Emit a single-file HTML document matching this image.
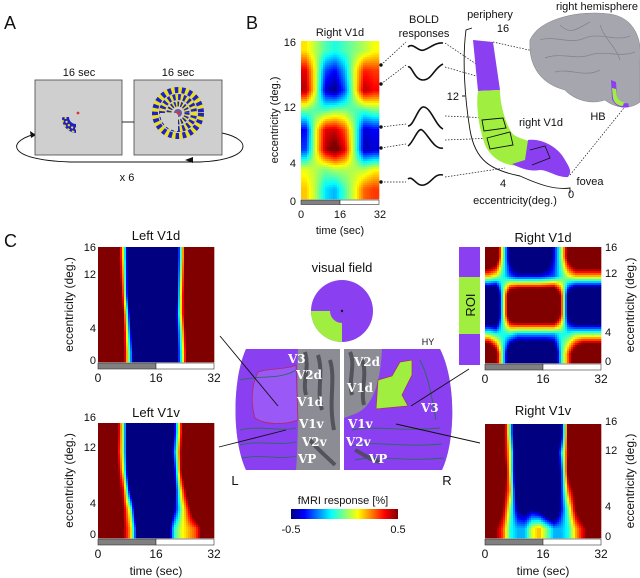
<!DOCTYPE html>
<html><head><meta charset="utf-8">
<style>
html,body{margin:0;padding:0;background:#fff;}
svg{display:block;font-family:"Liberation Sans",sans-serif;}
.t{font-size:11px;fill:#111;}
.tt{font-size:12px;fill:#111;}
.ti{font-size:13px;fill:#111;}
.pl{font-size:18px;fill:#111;}
.lab{font-family:"DejaVu Serif","Liberation Serif",serif;font-weight:bold;font-size:12px;fill:#fff;}
</style></head>
<body>
<svg id="fig" width="640" height="578" viewBox="0 0 640 578" xmlns="http://www.w3.org/2000/svg">
<defs>
<linearGradient id="jetGrad" x1="0" x2="1" y1="0" y2="0">
<stop offset="0" stop-color="#000080"/><stop offset="0.125" stop-color="#0000ff"/><stop offset="0.375" stop-color="#00ffff"/><stop offset="0.625" stop-color="#ffff00"/><stop offset="0.875" stop-color="#ff0000"/><stop offset="1" stop-color="#800000"/>
</linearGradient>
</defs>

<!-- Panel A -->
<text class="pl" x="4" y="29">A</text>
<text class="t" x="79" y="76" text-anchor="middle">16 sec</text>
<text class="t" x="178" y="76" text-anchor="middle">16 sec</text>
<path d="M40,133 C5,140 5,160 70,162 L200,162 C250,160 255,140 222,133" fill="none" stroke="#111" stroke-width="0.9"/>
<polygon points="36,135 30,131 31,138" fill="#111"/>
<polygon points="185,160 193,157 193,163" fill="#111"/>
<rect x="35" y="80" width="87" height="75" fill="#cfcfcf" stroke="#444" stroke-width="0.8"/>
<rect x="134" y="80" width="88" height="75" fill="#cfcfcf" stroke="#444" stroke-width="0.8"/>
<line x1="122" y1="122" x2="134" y2="122" stroke="#111" stroke-width="0.9"/>
<g>
<path d="M62,117 A15,15 0 0 0 76,133 L76,124 A7,7 0 0 1 69,117 Z" fill="#2020c8"/>
<path d="M65.5,117 A11.5,11.5 0 0 0 76,128.5" fill="none" stroke="#e8e020" stroke-width="2" stroke-dasharray="2 2"/>
<path d="M62.5,117 A14.5,14.5 0 0 0 76,132" fill="none" stroke="#e8e020" stroke-width="1.5" stroke-dasharray="2.5 2.5" stroke-dashoffset="2"/>
<circle cx="78" cy="113" r="1.4" fill="#e03030"/>
</g>
<g>
<circle cx="178" cy="113" r="23" fill="none" stroke="#e8e020" stroke-width="6"/>
<circle cx="178" cy="113" r="23" fill="none" stroke="#2020c8" stroke-width="6" stroke-dasharray="3.5 3.5"/>
<circle cx="178" cy="113" r="16" fill="none" stroke="#2020c8" stroke-width="6"/>
<circle cx="178" cy="113" r="16" fill="none" stroke="#e8e020" stroke-width="6" stroke-dasharray="2.6 2.6"/>
<circle cx="178" cy="113" r="9" fill="none" stroke="#e8e020" stroke-width="5"/>
<circle cx="178" cy="113" r="9" fill="none" stroke="#2020c8" stroke-width="5" stroke-dasharray="1.6 1.6"/>
<circle cx="178" cy="113" r="4" fill="#6a5aa0"/>
<path d="M178,113 L160,113 A18,18 0 0 0 178,131 Z" fill="#cfcfcf"/>
<circle cx="178" cy="113" r="1.5" fill="#e03030"/>
</g>
<text class="t" x="127" y="181" text-anchor="middle">x 6</text>

<!-- Panel B -->
<text class="pl" x="246" y="29">B</text>
<text class="t" x="340" y="36" text-anchor="middle">Right V1d</text>
<g id="hmB"></g>
<g>
<text class="t" x="296" y="46" text-anchor="end">16</text><text class="t" x="296" y="111" text-anchor="end">12</text>
<text class="t" x="296" y="167" text-anchor="end">4</text><text class="t" x="296" y="205" text-anchor="end">0</text></g>
<text class="t" transform="translate(278,120) rotate(-90)" text-anchor="middle">eccentricity (deg.)</text>
<rect x="301" y="200" width="39" height="4.5" fill="#808080" stroke="#333" stroke-width="0.6"/>
<rect x="340" y="200" width="39" height="4.5" fill="#fff" stroke="#333" stroke-width="0.6"/>
<text class="t" x="301" y="218" text-anchor="middle">0</text><text class="t" x="340" y="218" text-anchor="middle">16</text><text class="t" x="380" y="218" text-anchor="middle">32</text>
<text class="t" x="340" y="234" text-anchor="middle">time (sec)</text>
<text class="t" x="424" y="23" text-anchor="middle">BOLD</text>
<text class="t" x="424" y="37" text-anchor="middle">responses</text>
<g fill="none" stroke="#111" stroke-width="1.6">
<path d="M408,47 C413,42 418,52 424,50 C430,48 436,42 443,43"/>
<path d="M408,67 C412,65 414,80 423,80 C432,80 434,68 443,64"/>
<path d="M408,126 C414,126 418,106 424,107 C431,108 436,126 443,129"/>
<path d="M408,146 C413,143 418,127 422,130 C428,134 434,150 443,148"/>
<path d="M408,179 C413,175 416,187 424,185 C432,183 434,173 443,175"/>
</g>
<g stroke="#111" stroke-width="0.7" stroke-dasharray="1.5 1.5" fill="none">
<path d="M381,65 L406,42"/><path d="M381,84 L406,65"/><path d="M381,127 L406,124"/><path d="M381,148 L406,144"/><path d="M381,182 L406,182"/>
<path d="M445,43 L485,70"/><path d="M445,67 L490,80"/><path d="M445,116 L490,118"/><path d="M445,140 L495,138"/><path d="M445,177 L505,168"/>
<path d="M493,42 L610,68"/><path d="M570,175 L628,103"/>
</g>
<g fill="#111"><circle cx="381" cy="65" r="1.7"/><circle cx="381" cy="84" r="1.7"/><circle cx="381" cy="127" r="1.7"/><circle cx="381" cy="148" r="1.7"/><circle cx="381" cy="182" r="1.7"/></g>
<path d="M530,40 C540,18 580,10 610,14 C635,18 642,40 640,60 L640,102 C630,110 615,108 605,100 C590,105 575,100 565,90 C545,85 528,70 530,40 Z" fill="#a6a6ae" stroke="#8a8a92" stroke-width="0.6"/>
<g stroke="#7d7d86" stroke-width="0.8" fill="none" opacity="0.8">
<path d="M540,40 C555,35 570,45 585,38 C600,32 615,42 630,36"/><path d="M545,58 C560,52 575,60 590,55 C605,50 620,58 635,52"/>
<path d="M560,25 C570,35 575,30 590,22"/><path d="M555,72 C570,68 585,78 600,70"/><path d="M600,25 C605,40 615,45 620,60"/>
</g>
<path d="M611,80 L616,82 L617,97 C619,103 624,104 628,103 L629,107 C621,109 615,106 612,99 Z" fill="#8a40f0"/>
<path d="M612,88 L616,89 L617,97 C619,101 622,102 624,102 L623,106 C618,106 614,103 613,98 Z" fill="#a0ee40"/>
<text class="t" x="597" y="10" text-anchor="middle">right hemisphere</text>
<text class="t" x="598" y="120" text-anchor="middle">HB</text>
<path d="M472,28 L466,30 C462,60 465,100 470,130 C475,160 490,170 520,176 C540,185 555,190 570,188 L570,193" fill="none" stroke="#111" stroke-width="0.9"/>
<path d="M465,96 L462,96" stroke="#111"/>
<g>
<path d="M473,40 L493,42 L500,90 L478,91 Z" fill="#8a40f0"/>
<path d="M478,91 L500,90 C500,105 505,120 510,130 C515,140 528,138 535,145 L525,165 C508,168 492,160 485,145 C478,125 476,105 478,91 Z" fill="#a0ee40"/>
<path d="M528,140 C545,138 560,150 565,160 C570,168 572,172 568,177 C558,178 548,170 540,170 C530,172 520,168 512,164 L525,160 Z" fill="#8a40f0"/>
<path d="M482,120 L503,118 L506,128 L484,131 Z M487,138 L510,132 L513,145 L490,149 Z" fill="none" stroke="#111" stroke-width="0.9"/>
<path d="M530,150 L545,146 L550,158 L532,165" fill="none" stroke="#111" stroke-width="0.8"/>
</g>
<text class="t" x="490" y="18" text-anchor="middle">periphery</text>
<text class="t" x="503" y="32" text-anchor="middle">16</text>
<text class="t" x="459" y="100" text-anchor="end">12</text>
<text class="t" x="541" y="126" text-anchor="middle">right V1d</text>
<text class="t" x="503" y="187" text-anchor="middle">4</text>
<text class="t" x="571" y="198" text-anchor="middle">0</text>
<text class="t" x="590" y="185" text-anchor="middle">fovea</text>
<text class="t" x="515" y="204" text-anchor="middle">eccentricity(deg.)</text>

<!-- Panel C -->
<text class="pl" x="4" y="247">C</text>
<text class="ti" x="156" y="240" text-anchor="middle">Left V1d</text>
<text class="ti" x="156" y="417" text-anchor="middle">Left V1v</text>
<text class="ti" x="543" y="242" text-anchor="middle">Right V1d</text>
<text class="ti" x="543" y="415" text-anchor="middle">Right V1v</text>
<g id="hmLd"></g>
<g id="hmLv"></g>
<g id="hmRd"></g>
<g id="hmRv"></g>
<g id="axes"></g>
<rect x="459" y="247" width="21" height="30" fill="#8a40f0"/>
<rect x="459" y="277" width="21" height="57" fill="#a0ee40"/>
<rect x="459" y="334" width="21" height="31" fill="#8a40f0"/>
<text class="ti" transform="translate(475,305) rotate(-90)" text-anchor="middle">ROI</text>
<text class="ti" x="342" y="272" text-anchor="middle">visual field</text>
<circle cx="342" cy="311" r="31" fill="#8a40f0"/>
<path d="M342,311 L342,342 A31,31 0 0 1 311,311 L330,311 A12,12 0 0 0 342,323 Z" fill="#a0ee40"/>
<circle cx="342" cy="311" r="1.2" fill="#111"/>
<g>
<path d="M246,349 L340,349 L340,470 L246,470 C232,440 232,380 246,349 Z" fill="#8c8c94"/>
<path d="M246,349 L298,349 C296,380 300,420 296,470 L246,470 C232,440 232,380 246,349 Z" fill="#8a40f0"/>
<path d="M258,372 C270,368 285,370 296,365 L298,420 C285,425 265,425 255,418 C250,400 252,385 258,372 Z" fill="#9a58f6" stroke="#b02a60" stroke-width="0.8"/>
<g stroke="#4a4a52" stroke-width="4" fill="none" opacity="0.85"><path d="M305,352 C310,370 302,380 306,395"/><path d="M318,355 C324,375 316,390 322,410"/><path d="M330,360 C336,380 328,400 334,430"/><path d="M310,440 C318,450 325,455 335,465"/></g>
<g stroke="#2a6a5a" stroke-width="0.9" fill="none"><path d="M240,380 C260,375 280,380 296,370"/><path d="M240,430 C260,425 280,432 296,428"/><path d="M240,445 C260,440 280,446 296,442"/><path d="M242,458 C262,454 280,460 296,456"/></g>
</g>
<g>
<path d="M344,349 L440,349 C456,380 456,440 442,470 L344,470 Z" fill="#8c8c94"/>
<path d="M382,349 L440,349 C456,380 456,440 442,470 L360,470 C360,440 350,420 352,415 C370,410 380,390 382,349 Z" fill="#8a40f0"/>
<path d="M352,415 C370,412 400,420 420,412 C430,420 440,450 442,470 L344,470 L344,418 Z" fill="#8a40f0"/>
<path d="M378,380 L392,376 L400,362 L412,360 L412,375 L402,395 L408,406 L376,409 Z" fill="#a0ee40" stroke="#b02a60" stroke-width="0.7"/>
<g stroke="#4a4a52" stroke-width="4" fill="none" opacity="0.85"><path d="M350,352 C356,365 348,380 352,395"/><path d="M362,360 C368,375 360,390 364,405"/><path d="M355,450 C365,455 370,460 380,462"/></g>
<g stroke="#2a6a5a" stroke-width="0.9" fill="none"><path d="M352,430 C375,425 400,432 440,428"/><path d="M352,446 C375,440 400,448 442,444"/><path d="M355,460 C380,455 405,462 444,458"/><path d="M420,360 C430,380 432,400 436,420"/></g>
</g>
<g>
<text class="lab" x="288" y="363">V3</text><text class="lab" x="296" y="379">V2d</text><text class="lab" x="297" y="406">V1d</text>
<text class="lab" x="299" y="428">V1v</text><text class="lab" x="302" y="446">V2v</text><text class="lab" x="298" y="463">VP</text>
<text class="lab" x="354" y="366">V2d</text><text class="lab" x="347" y="392">V1d</text><text class="lab" x="421" y="412">V3</text>
<text class="lab" x="348" y="428">V1v</text><text class="lab" x="346" y="446">V2v</text><text class="lab" x="369" y="463">VP</text>
</g>
<text style="font-size:9px" x="428" y="345" text-anchor="middle" fill="#111">HY</text>
<text class="ti" x="235" y="485" text-anchor="middle">L</text>
<text class="ti" x="447" y="485" text-anchor="middle">R</text>
<g stroke="#111" stroke-width="0.9">
<line x1="220" y1="336" x2="278" y2="406"/><line x1="219" y1="447" x2="286" y2="430"/>
<line x1="469" y1="369" x2="411" y2="406"/><line x1="480" y1="443" x2="396" y2="424"/>
</g>
<text class="t" x="343" y="504" text-anchor="middle">fMRI response [%]</text>
<rect x="291" y="509" width="107" height="10" fill="url(#jetGrad)"/>
<text class="t" x="291" y="533" text-anchor="middle">-0.5</text>
<text class="t" x="398" y="533" text-anchor="middle">0.5</text>
</svg>
<script>
// ---- data ----
const timeTicks = [0, 16, 32];
const eccTickLabels = ["16", "12", "4", "0"];
const bValues = [
 [0.15,0.05,-0.05,-0.1,-0.05,0.0,0.05,0.12],
 [0.4,0.1,-0.3,-0.38,-0.2,0.1,0.35,0.32],
 [0.45,0.1,-0.42,-0.5,-0.3,0.1,0.45,0.38],
 [0.0,-0.05,-0.05,0.0,0.0,-0.05,-0.05,0.0],
 [-0.38,0.1,0.4,0.42,0.3,0.0,-0.42,-0.38],
 [-0.32,0.1,0.45,0.55,0.4,0.0,-0.45,-0.42],
 [0.1,0.05,0.0,0.05,0.05,0.05,0.05,0.12],
 [0.18,0.05,-0.15,-0.2,-0.05,0.1,0.28,0.32]];
const leftV1d = [
 [1,1,0.9,0.1,-1,-1,-1,-1,-1,-1,-1,0.0,1,1,1,1],
 [1,1,0.9,0.2,-1,-1,-1,-1,-1,-1,-1,0.1,1,1,1,1],
 [1,1,1,0.3,-1,-1,-1,-1,-1,-1,-1,0.2,1,1,1,1],
 [1,1,1,0.5,-0.6,-1,-1,-1,-1,-1,-0.8,0.2,1,1,1,1],
 [1,1,0.8,0.6,-0.4,-1,-1,-1,-1,-1,-0.8,0.0,0.9,1,1,1],
 [1,1,0.7,0.6,-0.2,-1,-1,-1,-1,-1,-0.8,-0.1,0.8,1,1,1]];
const leftV1v = [
 [1,1,0.7,0.0,-1,-1,-1,-1,-1,-1,-0.5,0.4,1,1,1,1],
 [1,0.8,0.6,0.0,-1,-1,-1,-1,-1,-1,-0.3,0.5,1,1,1,1],
 [1,1,0.7,0.1,-1,-1,-1,-1,-1,-1,-0.5,0.5,1,1,1,1],
 [1,1,0.6,0.4,-0.6,-1,-1,-1,-1,-1,-0.6,0.2,0.7,1,1,1],
 [0.8,0.7,0.6,0.5,0.0,-1,-1,-1,-1,-1,-0.5,0.0,0.4,0.8,1,1],
 [0.6,0.6,0.6,0.5,0.2,-0.6,-0.5,-0.5,-0.7,-0.8,-0.1,0.1,0.2,0.3,0.6,0.6]];
const rightV1d = [
 [1,0.8,0.0,-0.6,-1,-1,-1,-1,-0.8,-0.4,0.0,0.6,1,1,1,1],
 [0.2,0.1,-0.1,-0.3,-0.4,-0.4,-0.4,-0.4,-0.35,-0.3,-0.1,0.1,0.2,0.2,0.2,0.2],
 [-1,-1,0.0,0.8,1,1,1,1,1,1,0.4,-0.6,-1,-1,-1,-1],
 [-1,-1,0.0,0.8,1,1,1,1,1,1,0.4,-0.6,-1,-1,-1,-1],
 [0.0,-0.1,-0.1,-0.1,-0.2,-0.2,-0.2,-0.2,-0.2,-0.2,-0.1,-0.1,0.0,0.0,0.0,0.0],
 [1,0.6,-0.1,-0.8,-1,-1,-1,-1,-1,-0.8,-0.1,0.3,0.7,1,1,1]];
const rightV1v = [
 [1,1,0.7,-0.1,-1,-1,-1,-1,-1,-1,-0.6,0.6,1,1,1,1],
 [1,1,0.6,0.1,-1,-1,-1,-1,-1,-1,-0.2,0.5,1,1,1,1],
 [1,1,0.8,0.1,-1,-1,-1,-1,-1,-1,-0.4,0.6,1,1,1,1],
 [1,1,0.6,0.2,-0.8,-1,-1,-1,-1,-1,-0.4,0.3,0.6,1,1,1],
 [1,0.8,0.5,0.0,-0.5,-0.6,-0.5,-0.6,-0.8,-0.9,-0.4,0.0,0.5,0.8,1,1],
 [0.6,0.5,0.3,-0.1,-0.2,-0.2,0.1,0.2,0.0,-0.2,-0.2,-0.1,0.2,0.4,0.6,0.6]];

const NS = "http://www.w3.org/2000/svg";
function clamp(v){return Math.max(0,Math.min(1,v));}
function jet(v){
  const t = clamp((v + 0.5) / 1.0);
  const r = clamp(1.5 - Math.abs(4*t - 3)), g = clamp(1.5 - Math.abs(4*t - 2)), b = clamp(1.5 - Math.abs(4*t - 1));
  return `rgb(${Math.round(r*255)},${Math.round(g*255)},${Math.round(b*255)})`;
}
// bilinear sampling of the data grid (display smoothing only)
function sample(data, fr, fc){
  const rows = data.length, cols = data[0].length;
  fr = Math.max(0, Math.min(rows - 1, fr)); fc = Math.max(0, Math.min(cols - 1, fc));
  const r0 = Math.floor(fr), c0 = Math.floor(fc);
  const r1 = Math.min(rows - 1, r0 + 1), c1 = Math.min(cols - 1, c0 + 1);
  const dr = fr - r0, dc = fc - c0;
  return data[r0][c0]*(1-dr)*(1-dc) + data[r0][c1]*(1-dr)*dc + data[r1][c0]*dr*(1-dc) + data[r1][c1]*dr*dc;
}
function drawHeat(id, data, x0, y0, w, h, tmax, step){
  const g = document.getElementById(id);
  const rows = data.length, cols = data[0].length;
  const xScale = t => x0 + (t / tmax) * w;      // time -> px
  const xInv = px => (px - x0) / w * tmax;      // px -> time
  const yInv = py => (py - y0) / h * rows;      // px -> row position
  const dt = tmax / cols;
  for (let py = y0; py < y0 + h; py += step){
    for (let px = x0; px < x0 + w; px += step){
      const fc = xInv(px + step/2) / dt - 0.5;
      const fr = yInv(py + step/2) - 0.5;
      const v = sample(data, fr, fc);
      const rc = document.createElementNS(NS, "rect");
      rc.setAttribute("x", px); rc.setAttribute("y", py);
      rc.setAttribute("width", Math.min(step, x0 + w - px) + 0.3);
      rc.setAttribute("height", Math.min(step, y0 + h - py) + 0.3);
      rc.setAttribute("fill", jet(v));
      
      
      g.appendChild(rc);
    }
  }
}
drawHeat("hmB", bValues, 301, 41, 78, 158, 32, 2);
drawHeat("hmLd", leftV1d, 98, 247, 116, 115, 32, 2);
drawHeat("hmLv", leftV1v, 98, 423, 116, 115, 32, 2);
drawHeat("hmRd", rightV1d, 485, 247, 116, 116, 32, 2);
drawHeat("hmRv", rightV1v, 485, 424, 116, 114, 32, 2);

function txt(parent, x, y, s, anchor, cls){
  const t = document.createElementNS(NS, "text");
  t.setAttribute("x", x); t.setAttribute("y", y);
  t.setAttribute("text-anchor", anchor); t.setAttribute("class", cls || "t");
  t.textContent = s; parent.appendChild(t); return t;
}
function axes(x0, y0, w, h, side, tickYs, showTime){
  const g = document.getElementById("axes");
  const bar = document.createElementNS(NS, "g");
  
  
  const r1 = document.createElementNS(NS, "rect");
  r1.setAttribute("x", x0); r1.setAttribute("y", y0 + h + 1); r1.setAttribute("width", w/2); r1.setAttribute("height", 6);
  r1.setAttribute("fill", "#808080"); r1.setAttribute("stroke", "#333"); r1.setAttribute("stroke-width", "0.6");
  const r2 = document.createElementNS(NS, "rect");
  r2.setAttribute("x", x0 + w/2); r2.setAttribute("y", y0 + h + 1); r2.setAttribute("width", w/2); r2.setAttribute("height", 6);
  r2.setAttribute("fill", "#fff"); r2.setAttribute("stroke", "#333"); r2.setAttribute("stroke-width", "0.6");
  bar.appendChild(r1); bar.appendChild(r2); g.appendChild(bar);
  const xt = document.createElementNS(NS, "g");
  
  
  g.appendChild(xt);
  timeTicks.forEach(t => txt(xt, x0 + t/32*w, y0 + h + 20, String(t), "middle", "tt"));
  const yt = document.createElementNS(NS, "g");
  
  
  g.appendChild(yt);
  eccTickLabels.forEach((s, i) => {
    if (side === "left") txt(yt, x0 - 2, tickYs[i] + 4, s, "end");
    else txt(yt, x0 + w + 4, tickYs[i] + 4, s, "start");
  });
  const lx = side === "left" ? x0 - 25 : x0 + w + 33;
  const lab = txt(g, 0, 0, "eccentricity (deg.)", "middle", "tt");
  lab.setAttribute("transform", `translate(${lx},${y0 + h/2}) rotate(-90)`);
  
  
  if (showTime){
    const tl = txt(g, x0 + w/2, y0 + h + 37, "time (sec)", "middle", "tt");
    
    
  }
}
axes(98, 247, 116, 115, "left", [247, 274, 328, 360], false);
axes(98, 423, 116, 115, "left", [417, 447, 503, 534], true);
axes(485, 247, 116, 116, "right", [247, 273, 332, 361], false);
axes(485, 424, 116, 114, "right", [421, 450, 506, 536], true);
</script>
</body></html>
